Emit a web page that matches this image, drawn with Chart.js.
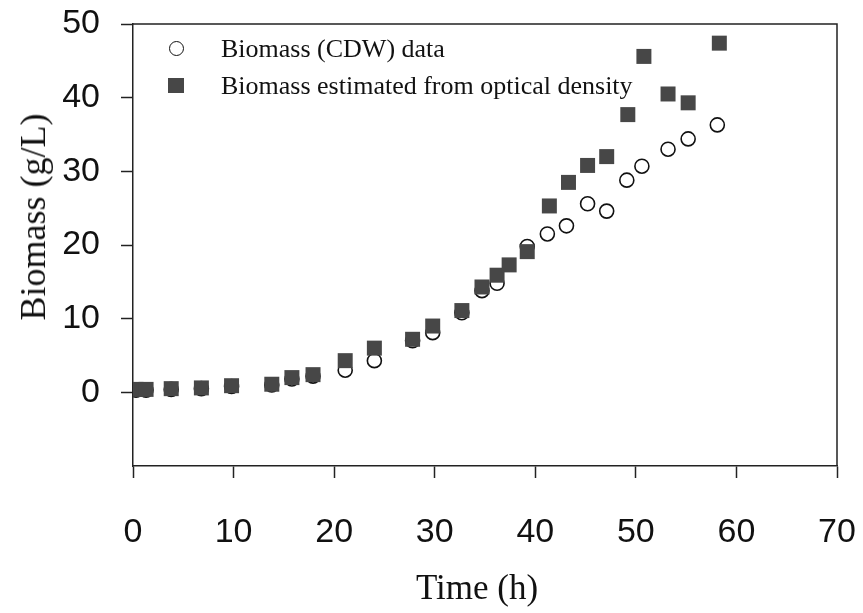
<!DOCTYPE html>
<html>
<head>
<meta charset="utf-8">
<title>Biomass vs time</title>
<script src="https://cdn.jsdelivr.net/npm/chart.js@4.4.1/dist/chart.umd.min.js"></script>
<style>
    html, body { margin: 0; padding: 0; background: #fff; }
    #wrap { position: relative; width: 863px; height: 613px; }
    #legend {
        position: absolute; left: 168px; top: 30px;
        list-style: none; margin: 0; padding: 0;
        font-family: "Liberation Serif", "Times New Roman", serif;
        font-size: 26px; color: #111;
    }
    #legend li { display: flex; align-items: center; height: 37px; white-space: nowrap; }
    #legend .mark { display: inline-block; box-sizing: border-box; margin-right: 37px; }
    .axis-title {
        position: absolute;
        font-family: "Liberation Serif", "Times New Roman", serif;
        color: #111; white-space: nowrap;
    }
    #ytitle {
        left: 33px; top: 217px; font-size: 36px;
        transform: translate(-50%, -50%) rotate(-90deg);
    }
    #xtitle {
        left: 477px; top: 588px; font-size: 35px;
        transform: translate(-50%, -50%);
    }
</style>
</head>
<body>
<div id="wrap">
    <canvas id="biomassChart" width="863" height="613"></canvas>
    <ul id="legend"></ul>
    <div id="ytitle" class="axis-title">Biomass (g/L)</div>
    <div id="xtitle" class="axis-title">Time (h)</div>
</div>
<script>
'use strict';

// Biomass (CDW) data - open circles
const CDW_TIME = [0.3, 1.3, 3.8, 6.8, 9.8, 13.8, 15.8, 17.9, 21.1, 24.0, 27.8, 29.8, 32.7,
    34.7, 36.2, 39.2, 41.2, 43.1, 45.2, 47.1, 49.1, 50.6, 53.2, 55.2, 58.1];
const CDW_VALUES = [0.3, 0.3, 0.4, 0.5, 0.8, 1.0, 1.8, 2.2, 3.0, 4.3, 7.0, 8.1, 10.8,
    13.8, 14.8, 19.8, 21.5, 22.6, 25.6, 24.6, 28.8, 30.7, 33.0, 34.4, 36.3];

// Biomass estimated from optical density - filled squares
const OD_TIME = [0.3, 1.3, 3.8, 6.8, 9.8, 13.8, 15.8, 17.9, 21.1, 24.0, 27.8, 29.8, 32.7,
    34.7, 36.2, 37.4, 39.2, 41.4, 43.3, 45.2, 47.1, 49.2, 50.8, 53.2, 55.2, 58.3];
const OD_VALUES = [0.4, 0.4, 0.5, 0.6, 0.9, 1.1, 2.0, 2.4, 4.3, 6.0, 7.2, 9.0, 11.1,
    14.3, 15.9, 17.3, 19.1, 25.3, 28.5, 30.8, 32.0, 37.7, 45.6, 40.5, 39.3, 47.4];

const SERIES_LABELS = ['Biomass (CDW) data', 'Biomass estimated from optical density'];

const X_TICKS = [0, 10, 20, 30, 40, 50, 60, 70];
const Y_TICKS = [0, 10, 20, 30, 40, 50];

const toPoints = (xs, ys) => xs.map((x, i) => ({ x, y: ys[i] }));

const AXIS_COLOR = '#222';
const TICK_FONT = { family: '"Liberation Sans", Arial, sans-serif', size: 34 };

/** Top and right sides of the plot box */
const frameBox = {
    id: 'frameBox',
    afterDraw(chart) {
        const { ctx, chartArea: a } = chart;
        ctx.save();
        ctx.strokeStyle = AXIS_COLOR;
        ctx.lineWidth = 1.5;
        ctx.beginPath();
        ctx.moveTo(a.left, a.top);
        ctx.lineTo(a.right, a.top);
        ctx.lineTo(a.right, a.bottom);
        ctx.stroke();
        ctx.restore();
    }
};

const chart = new Chart(document.getElementById('biomassChart'), {
    type: 'scatter',
    data: {
        datasets: [{
            label: SERIES_LABELS[0],
            data: toPoints(CDW_TIME, CDW_VALUES),
            pointStyle: 'circle',
            radius: 7,
            borderWidth: 1.6,
            borderColor: '#111',
            backgroundColor: '#fff',
            order: 2
        }, {
            label: SERIES_LABELS[1],
            data: toPoints(OD_TIME, OD_VALUES),
            pointStyle: 'rect',
            radius: 10.6,
            borderWidth: 0,
            borderColor: '#474747',
            backgroundColor: '#474747',
            order: 1
        }]
    },
    options: {
        responsive: false,
        animation: false,
        devicePixelRatio: 1,
        layout: { padding: { top: 24, right: 26, left: 0, bottom: 0 } },
        plugins: { legend: { display: false }, tooltip: { enabled: false } },
        scales: {
            x: {
                type: 'linear',
                min: X_TICKS[0],
                max: X_TICKS[X_TICKS.length - 1],
                afterBuildTicks: s => { s.ticks = X_TICKS.map(v => ({ value: v })); },
                afterFit: s => {
                    s.height = 147;
                    s.paddingLeft = 0;
                    s.paddingRight = 0;
                },
                ticks: { font: TICK_FONT, color: '#111', padding: 34 },
                grid: { drawOnChartArea: false, tickLength: 12, tickColor: AXIS_COLOR, tickWidth: 1.5 },
                border: { color: AXIS_COLOR, width: 1.5 }
            },
            y: {
                min: -10,
                max: 50,
                afterBuildTicks: s => { s.ticks = Y_TICKS.map(v => ({ value: v })); },
                afterFit: s => {
                    s.width = 133;
                    s.paddingTop = 0;
                    s.paddingBottom = 0;
                },
                ticks: { font: TICK_FONT, color: '#111', padding: 21 },
                grid: { drawOnChartArea: false, tickLength: 12, tickColor: AXIS_COLOR, tickWidth: 1.5 },
                border: { color: AXIS_COLOR, width: 1.5 }
            }
        }
    },
    plugins: [frameBox]
});

/** HTML legend inside the plot, built from the datasets */
function renderLegend() {
    const list = document.getElementById('legend');
    list.innerHTML = '';
    chart.data.datasets.forEach(ds => {
        const li = document.createElement('li');
        const mark = document.createElement('span');
        mark.className = 'mark';
        if (ds.pointStyle === 'circle') {
            mark.style.cssText = 'width:15px;height:15px;border-radius:50%;margin-left:1px;' +
                'border:' + ds.borderWidth + 'px solid ' + ds.borderColor + ';background:' + ds.backgroundColor;
        } else {
            mark.style.cssText = 'width:16px;height:15px;background:' + ds.backgroundColor;
        }
        const text = document.createElement('span');
        text.textContent = ds.label;
        li.appendChild(mark);
        li.appendChild(text);
        list.appendChild(li);
    });
}

renderLegend();
</script>
</body>
</html>
